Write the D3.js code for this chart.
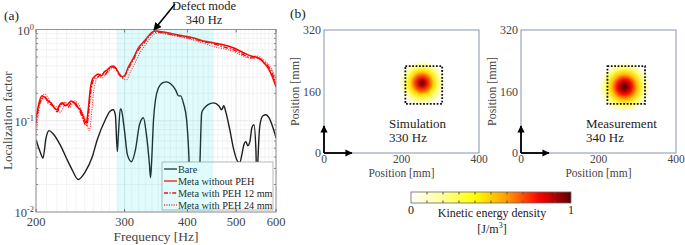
<!DOCTYPE html>
<html>
<head>
<meta charset="utf-8">
<script src="https://cdn.jsdelivr.net/npm/d3@7"></script>
<style>
body { margin: 0; background: #fff; }
text { font-family: "Liberation Serif", "Times New Roman", serif; fill: #222; }
</style>
</head>
<body>
<div id="chart"></div>
<script>
// ---- data ----
// (a) localization factor vs frequency [Hz]
var bare = [[200,0.062],[203.7,0.046],[206.5,0.039],[209.4,0.065],[212.3,0.078],[216.3,0.072],
  [223.3,0.0547],[230.6,0.0375],[236,0.029],[242.6,0.0227],[250.5,0.0275],[258.7,0.040],
  [264.7,0.062],[274.7,0.1025],[281,0.128],[284.9,0.132],[287.6,0.116],[290.2,0.046],
  [291.6,0.07],[294.2,0.135],[295.6,0.132],[299.7,0.080],[303.9,0.0425],[309.5,0.0356],
  [315.3,0.048],[321.1,0.090],[327,0.108],[331.6,0.07],[336.2,0.033],[337.8,0.0238],
  [339.3,0.033],[342.5,0.1025],[345.6,0.17],[350.4,0.23],[356.9,0.26],[363.5,0.267],
  [370.3,0.254],[378.9,0.218],[384.1,0.1875],[387.7,0.1875],[393.1,0.153],[398.5,0.1025],
  [402.2,0.048],[405.9,0.0137],[412,0.0122],[418,0.0135],[423.1,0.0291],[427,0.1223],
  [430.9,0.135],[438.9,0.1496],[451.2,0.157],[461.7,0.146],[468.1,0.132],[472.4,0.146],
  [476.8,0.125],[485.6,0.0799],[494.6,0.048],[503.8,0.0356],[508.5,0.0349],[513.2,0.0425],
  [517.9,0.0547],[522.7,0.059],[527.5,0.0533],[532.4,0.059],[537.3,0.0839],[542.3,0.0904],
  [547.3,0.048],[549.8,0.0176],[552.4,0.0375],[557.5,0.0904],[565.2,0.1135],[573,0.1163],
  [581,0.108],[591.8,0.0839],[600,0.0652]];
var metaNoPeh = [[200,0.105],[202.8,0.157],[205.6,0.1875],[208.4,0.179],[211.3,0.165],
  [214.3,0.157],[217.3,0.139],[220.3,0.132],[222.3,0.146],[225.4,0.157],[228.5,0.146],
  [231.7,0.153],[234.9,0.165],[238.2,0.157],[241.5,0.142],[244.8,0.132],[248.2,0.111],
  [251.7,0.095],[254,0.132],[256.3,0.218],[258.7,0.281],[262.3,0.31],[265.9,0.326],
  [269.6,0.31],[273.4,0.343],[277.2,0.361],[281,0.389],[284.9,0.399],[288.9,0.37],
  [292.9,0.326],[297,0.303],[299.7,0.31],[305.3,0.389],[312.4,0.488],[319.6,0.628],
  [327,0.73],[334.7,0.849],[340.9,0.939],[347.2,0.963],[358.6,0.939],[375.4,0.893],
  [393.1,0.849],[411.6,0.807],[430.9,0.749],[451.2,0.712],[472.4,0.677],[494.6,0.628],
  [517.9,0.553],[534.9,0.513],[547.3,0.500],[557.5,0.476],[567.8,0.430],[578.3,0.380],
  [589.1,0.31],[600,0.235]];
var metaPeh12 = [[200,0.093],[202.8,0.146],[205.6,0.174],[208.4,0.183],[211.3,0.157],
  [214.3,0.1496],[217.3,0.142],[220.3,0.1254],[222.3,0.139],[225.4,0.153],[228.5,0.157],
  [231.7,0.142],[234.9,0.157],[238.2,0.161],[241.5,0.146],[244.8,0.125],[248.2,0.1025],
  [251.7,0.088],[254,0.108],[256.3,0.183],[258.7,0.254],[262.3,0.295],[265.9,0.303],
  [269.6,0.326],[273.4,0.318],[277.2,0.343],[281,0.38],[284.9,0.389],[288.9,0.361],
  [292.9,0.318],[297,0.295],[299.7,0.303],[305.3,0.37],[312.4,0.464],[319.6,0.597],
  [327,0.694],[334.7,0.828],[340.9,0.916],[347.2,0.939],[358.6,0.916],[375.4,0.871],
  [393.1,0.828],[411.6,0.787],[430.9,0.730],[451.2,0.694],[472.4,0.644],[494.6,0.597],
  [517.9,0.526],[534.9,0.488],[547.3,0.488],[557.5,0.476],[567.8,0.441],[578.3,0.399],
  [589.1,0.335],[600,0.26]];
var metaPeh24 = [[200,0.070],[202.8,0.132],[205.6,0.183],[208.4,0.197],[211.3,0.178],
  [214.3,0.153],[217.3,0.146],[220.3,0.139],[223.3,0.1223],[226.4,0.139],[229.6,0.157],
  [232.8,0.139],[236,0.153],[239.3,0.165],[242.6,0.153],[246,0.132],[249.4,0.111],
  [252.8,0.0904],[255.2,0.0778],[257.5,0.108],[259.9,0.192],[263.5,0.281],[267.2,0.303],
  [270.9,0.295],[274.7,0.318],[278.5,0.343],[282.3,0.37],[286.2,0.38],[290.2,0.352],
  [294.2,0.31],[298.3,0.288],[302.5,0.281],[308.1,0.343],[315.3,0.441],[322.6,0.567],
  [330.1,0.677],[337.8,0.807],[344,0.893],[350.4,0.916],[361.9,0.893],[378.9,0.849],
  [396.7,0.807],[415.4,0.749],[434.9,0.694],[453.3,0.644],[474.6,0.612],[496.9,0.567],
  [520.3,0.5],[534.9,0.488],[547.3,0.513],[557.5,0.5],[567.8,0.464],[578.3,0.42],
  [589.1,0.361],[600,0.295]];
var seriesNames = ["Bare", "Meta without PEH", "Meta with PEH 12 mm", "Meta with PEH 24 mm"];
var freqTicks = [200, 300, 400, 500, 600];
var factorTicks = [0.01, 0.1, 1];
var factorExp = ["-2", "-1", "0"];
var bandHz = [290, 450];
var defectHz = 340;

// (b) energy maps, positions in mm
var mapTitles = ["Simulation", "Measurement"];
var mapFreqs = ["330 Hz", "340 Hz"];
var posXTicks = [0, 200, 400];
var posYTicks = [0, 160, 320];
var spotCenters = [[253, 182], [267, 172]];
var spotRadius = [60, 66];
var cavityBoxes = [[210, 128, 305, 226], [223, 128, 320, 226]];
var profileSim = [[0, 0.97], [0.12, 0.9], [0.3, 0.72], [0.5, 0.47], [0.7, 0.26], [0.85, 0.11], [1, 0]];
var profileMeas = [[0, 1], [0.12, 0.94], [0.3, 0.78], [0.5, 0.52], [0.72, 0.27], [0.88, 0.1], [1, 0]];
var colorStops = [0, 0.2, 0.4, 0.6, 0.8, 1];
var colorRange = ["#ffffff", "#ffff9a", "#ffff00", "#ff9a00", "#ff0000", "#5a0000"];
var barTicks = [0, 0.1, 0.2, 0.3, 0.4, 0.5, 0.6, 0.7, 0.8, 0.9, 1];

var W = 685, H = 245;
var svg = d3.select("#chart").append("svg").attr("width", W).attr("height", H);
var defs = svg.append("defs");

// ================= panel (a) =================
var pa = {left: 36, right: 276, top: 29.5, bottom: 212};
var x = d3.scaleLog().domain([200, 600]).range([pa.left, pa.right]);
var y = d3.scaleLog().domain([0.01, 1]).range([pa.bottom, pa.top]);

var ga = svg.append("g");

// grid
var minorX = d3.range(210, 600, 10).filter(function(f) { return f % 100; });
var minorY = [];
[0.01, 0.1].forEach(function(d) { for (var k = 2; k <= 9; k++) minorY.push(d * k); });
ga.selectAll(".gx").data(minorX).enter().append("line")
  .attr("x1", x).attr("x2", x).attr("y1", pa.top).attr("y2", pa.bottom)
  .attr("stroke", "#efefef").attr("stroke-width", 0.7);
ga.selectAll(".gy").data(minorY).enter().append("line")
  .attr("y1", y).attr("y2", y).attr("x1", pa.left).attr("x2", pa.right)
  .attr("stroke", "#ececec").attr("stroke-width", 0.7);
ga.selectAll(".gX").data(freqTicks).enter().append("line")
  .attr("x1", x).attr("x2", x).attr("y1", pa.top).attr("y2", pa.bottom)
  .attr("stroke", "#e2e2e2").attr("stroke-width", 0.8);
ga.selectAll(".gY").data(factorTicks).enter().append("line")
  .attr("y1", y).attr("y2", y).attr("x1", pa.left).attr("x2", pa.right)
  .attr("stroke", "#e2e2e2").attr("stroke-width", 0.8);

// curves
defs.append("clipPath").attr("id", "clipA").append("rect")
  .attr("x", pa.left).attr("y", pa.top).attr("width", pa.right - pa.left).attr("height", pa.bottom - pa.top);
var line = d3.line().x(function(d) { return x(d[0]); }).y(function(d) { return y(d[1]); })
  .curve(d3.curveMonotoneX);
var seriesData = [bare, metaPeh24, metaPeh12, metaNoPeh];
var seriesColor = ["#1e1e1e", "#ff4040", "#ff0000", "#ff0000"];
var seriesDash = [null, "1.2,1.2", "5,1.6,1.4,1.6", null];
var seriesWidth = [1.4, 1.1, 1.3, 1.5];
ga.append("g").attr("clip-path", "url(#clipA)")
  .selectAll("path").data(seriesData).enter().append("path")
  .attr("d", line).attr("fill", "none")
  .attr("stroke", function(d, i) { return seriesColor[i]; })
  .attr("stroke-width", function(d, i) { return seriesWidth[i]; })
  .attr("stroke-dasharray", function(d, i) { return seriesDash[i]; });

// legend
var lg = ga.append("g");
lg.append("rect").attr("x", 162).attr("y", 162).attr("width", 111).attr("height", 48)
  .attr("fill", "#fff").attr("stroke", "#9a9a9a").attr("stroke-width", 0.7);
var legColor = ["#1e1e1e", "#ff0000", "#ff0000", "#ff4040"];
var legDash = [null, null, "4,1.5,1.2,1.5", "1.2,1.2"];
seriesNames.forEach(function(name, i) {
  var yy = 169 + i * 12;
  lg.append("line").attr("x1", 164).attr("x2", 177).attr("y1", yy).attr("y2", yy)
    .attr("stroke", legColor[i]).attr("stroke-width", 1.3).attr("stroke-dasharray", legDash[i]);
  lg.append("text").attr("x", 178).attr("y", yy + 3.5).style("font-size", "10.2px").text(name);
});

// translucent band over everything
ga.append("rect").attr("x", x(bandHz[0])).attr("y", pa.top)
  .attr("width", x(bandHz[1]) - x(bandHz[0])).attr("height", pa.bottom - pa.top)
  .attr("fill", "#00e0e0").attr("opacity", 0.12);

// frame and ticks
ga.append("rect").attr("x", pa.left).attr("y", pa.top)
  .attr("width", pa.right - pa.left).attr("height", pa.bottom - pa.top)
  .attr("fill", "none").attr("stroke", "#8a8a8a").attr("stroke-width", 0.9);
freqTicks.forEach(function(f) {
  ga.append("line").attr("x1", x(f)).attr("x2", x(f)).attr("y1", pa.bottom).attr("y2", pa.bottom - 3)
    .attr("stroke", "#777");
  ga.append("line").attr("x1", x(f)).attr("x2", x(f)).attr("y1", pa.top).attr("y2", pa.top + 3)
    .attr("stroke", "#777");
  ga.append("text").attr("x", x(f)).attr("y", 226).attr("text-anchor", "middle")
    .style("font-size", "12.5px").style("fill", "#444").text(f);
});
minorY.forEach(function(v) {
  ga.append("line").attr("x1", pa.left).attr("x2", pa.left + 2).attr("y1", y(v)).attr("y2", y(v)).attr("stroke", "#888");
  ga.append("line").attr("x1", pa.right).attr("x2", pa.right - 2).attr("y1", y(v)).attr("y2", y(v)).attr("stroke", "#888");
});
factorTicks.forEach(function(v, i) {
  var t = ga.append("text").attr("x", 34).attr("y", y(v) + 5).attr("text-anchor", "end")
    .style("font-size", "12.5px").style("fill", "#444");
  t.append("tspan").text("10");
  t.append("tspan").attr("dy", -5).style("font-size", "8.5px").text(factorExp[i]);
});
ga.append("text").attr("transform", "translate(12," + ((pa.top + pa.bottom) / 2) + ") rotate(-90)")
  .attr("text-anchor", "middle").style("font-size", "13px").style("fill", "#444").text("Localization factor");
ga.append("text").attr("x", (pa.left + pa.right) / 2).attr("y", 241).attr("text-anchor", "middle")
  .style("font-size", "13.5px").style("fill", "#444").text("Frequency [Hz]");
ga.append("text").attr("x", 4).attr("y", 20).style("font-size", "13.5px").text("(a)");

// defect mode annotation
defs.append("marker").attr("id", "head").attr("viewBox", "0 0 10 10").attr("refX", 9).attr("refY", 5)
  .attr("markerWidth", 5).attr("markerHeight", 5).attr("orient", "auto")
  .append("path").attr("d", "M0,0L10,5L0,10z").attr("fill", "#000");
ga.append("line").attr("x1", 175).attr("y1", 4).attr("x2", x(defectHz) + 2).attr("y2", y(0.96) - 1)
  .attr("stroke", "#000").attr("stroke-width", 1.6).attr("marker-end", "url(#head)");
ga.append("text").attr("x", 204).attr("y", 10).attr("text-anchor", "middle")
  .style("font-size", "12.5px").text("Defect mode");
ga.append("text").attr("x", 204).attr("y", 24).attr("text-anchor", "middle")
  .style("font-size", "12.5px").text(defectHz + " Hz");

// ================= panel (b) =================
var color = d3.scaleLinear().domain(colorStops).range(colorRange);
var profiles = [profileSim, profileMeas];
var panelLeft = [324, 521];
var py = d3.scaleLinear().domain([0, 320]).range([153, 30]);
var gb = svg.append("g");
gb.append("text").attr("x", 290).attr("y", 18).style("font-size", "13.5px").text("(b)");

defs.append("marker").attr("id", "head2").attr("viewBox", "0 0 10 10").attr("refX", 9).attr("refY", 5)
  .attr("markerWidth", 4).attr("markerHeight", 4).attr("orient", "auto")
  .append("path").attr("d", "M0,0L10,5L0,10z").attr("fill", "#000");

panelLeft.forEach(function(L, i) {
  var px = d3.scaleLinear().domain([0, 400]).range([L, L + 155]);
  var g = gb.append("g");
  var cid = "clipB" + i;
  defs.append("clipPath").attr("id", cid).append("rect")
    .attr("x", px(0)).attr("y", py(320)).attr("width", px(400) - px(0)).attr("height", py(0) - py(320));

  // energy spot
  var gid = "spot" + i;
  var c = spotCenters[i];
  var rPx = px(spotRadius[i]) - px(0);
  var grad = defs.append("radialGradient").attr("id", gid).attr("gradientUnits", "userSpaceOnUse")
    .attr("cx", px(c[0])).attr("cy", py(c[1])).attr("r", rPx);
  profiles[i].forEach(function(p) {
    grad.append("stop").attr("offset", p[0]).attr("stop-color", color(p[1]));
  });
  g.append("circle").attr("clip-path", "url(#" + cid + ")")
    .attr("cx", px(c[0])).attr("cy", py(c[1])).attr("r", rPx).attr("fill", "url(#" + gid + ")");

  // cavity outline
  var b = cavityBoxes[i];
  g.append("rect").attr("x", px(b[0])).attr("y", py(b[3]))
    .attr("width", px(b[2]) - px(b[0])).attr("height", py(b[1]) - py(b[3]))
    .attr("fill", "none").attr("stroke", "#111").attr("stroke-width", 1.8).attr("stroke-dasharray", "1.8,1.6");

  // frame
  g.append("rect").attr("x", px(0)).attr("y", py(320))
    .attr("width", px(400) - px(0)).attr("height", py(0) - py(320))
    .attr("fill", "none").attr("stroke", "#8893ad").attr("stroke-width", 1);

  // axes arrows at origin
  g.append("line").attr("x1", px(0)).attr("y1", py(0)).attr("x2", px(0)).attr("y2", py(70))
    .attr("stroke", "#000").attr("stroke-width", 1.8).attr("marker-end", "url(#head2)");
  g.append("line").attr("x1", px(0)).attr("y1", py(0)).attr("x2", px(72)).attr("y2", py(0))
    .attr("stroke", "#000").attr("stroke-width", 1.8).attr("marker-end", "url(#head2)");

  // tick labels
  posYTicks.forEach(function(v) {
    g.append("text").attr("x", L - 3).attr("y", py(v) + 4).attr("text-anchor", "end")
      .style("font-size", "12px").style("fill", "#444").text(v);
  });
  posXTicks.forEach(function(v) {
    g.append("text").attr("x", px(v)).attr("y", 163).attr("text-anchor", "middle")
      .style("font-size", "11.5px").style("fill", "#444").text(v);
  });
  g.append("text").attr("transform", "translate(" + (L - 25) + "," + py(160) + ") rotate(-90)")
    .attr("text-anchor", "middle").style("font-size", "12px").style("fill", "#444").text("Position [mm]");
  g.append("text").attr("x", px(200)).attr("y", 177).attr("text-anchor", "middle")
    .style("font-size", "11.5px").style("fill", "#444").text("Position [mm]");

  g.append("text").attr("x", L + 65).attr("y", 128).style("font-size", "13px").text(mapTitles[i]);
  g.append("text").attr("x", L + 65).attr("y", 142).style("font-size", "13px").text(mapFreqs[i]);
});

// colour bar
var cb = d3.scaleLinear().domain([0, 1]).range([411, 571]);
var lgrad = defs.append("linearGradient").attr("id", "cbar");
colorStops.forEach(function(s) {
  lgrad.append("stop").attr("offset", s).attr("stop-color", color(s));
});
gb.append("rect").attr("x", cb(0)).attr("y", 192).attr("width", cb(1) - cb(0)).attr("height", 11)
  .attr("fill", "url(#cbar)").attr("stroke", "#666").attr("stroke-width", 0.8);
barTicks.slice(1, -1).forEach(function(t) {
  gb.append("line").attr("x1", cb(t)).attr("x2", cb(t)).attr("y1", 192).attr("y2", 194.5).attr("stroke", "#555");
  gb.append("line").attr("x1", cb(t)).attr("x2", cb(t)).attr("y1", 203).attr("y2", 200.5).attr("stroke", "#555");
});
gb.append("text").attr("x", cb(0)).attr("y", 214).attr("text-anchor", "middle").style("font-size", "12px").text("0");
gb.append("text").attr("x", cb(1)).attr("y", 214).attr("text-anchor", "middle").style("font-size", "12px").text("1");
gb.append("text").attr("x", 492).attr("y", 217).attr("text-anchor", "middle").style("font-size", "12px")
  .text("Kinetic energy density");
var unit = gb.append("text").attr("x", 492).attr("y", 233).attr("text-anchor", "middle").style("font-size", "12px");
unit.append("tspan").text("[J/m");
unit.append("tspan").attr("dy", -5).style("font-size", "8px").text("3");
unit.append("tspan").attr("dy", 5).text("]");
</script>
</body>
</html>
